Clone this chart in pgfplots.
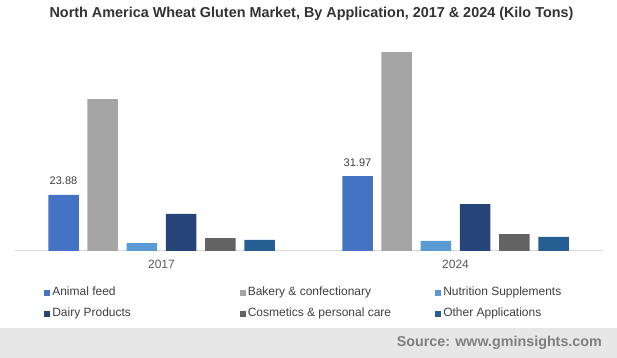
\documentclass[border=0pt]{standalone}
\usepackage{pgfplots}
\pgfplotsset{compat=1.18}
\usepackage{fontspec}
\setmainfont{Liberation Sans}
\definecolor{cA}{HTML}{4472C4}
\definecolor{cB}{HTML}{A5A5A5}
\definecolor{cC}{HTML}{5B9BD5}
\definecolor{cD}{HTML}{264478}
\definecolor{cE}{HTML}{636363}
\definecolor{cF}{HTML}{255E91}
\definecolor{txt}{HTML}{404040}
\definecolor{tickc}{HTML}{595959}
\definecolor{band}{HTML}{E7E7E7}
\definecolor{src}{HTML}{7F7F7F}
\definecolor{axl}{HTML}{D9D9D9}
\definecolor{ttl}{HTML}{333333}
\begin{document}
\begin{tikzpicture}
\useasboundingbox (0,0) rectangle (617bp,358bp);
\fill[white] (0,0) rectangle (617bp,358bp);
\fill[band] (0,0) rectangle (617bp,29.5bp);
\node[anchor=base east, font=\bfseries\fontsize{14.3bp}{16bp}\selectfont, text=src, inner sep=0pt] at (602bp,12bp) {Source: www.gminsights.com};
\node[anchor=base, font=\bfseries\fontsize{14.4bp}{16bp}\selectfont, text=ttl, inner sep=0pt] at (311.5bp,340bp) {North America Wheat Gluten Market, By Application, 2017 \& 2024 (Kilo Tons)};
\begin{axis}[
  at={(14.5bp,107bp)}, anchor=south west,
  scale only axis, width=588bp, height=211.1bp,
  xmin=-0.5, xmax=1.5, ymin=0, ymax=90,
  ybar=8.7bp, bar width=30.5bp,
  axis y line=none, axis x line*=bottom,
  x axis line style={draw=axl, line width=1bp, -},
  xtick={0,1}, xticklabels={2017,2024}, major tick length=0pt,
  xticklabel style={font=\fontsize{12bp}{14bp}\selectfont, text=tickc, inner sep=0pt, yshift=-8.5bp},
  ytick=\empty,
  clip=false,
  legend columns=3,
  legend image code/.code={\draw[#1, draw=none] (0bp,-3bp) rectangle (6bp,3bp);},
  legend cell align=left,
  legend style={at={(0.051,-0.172)}, anchor=north west, draw=none, fill=none,
    inner sep=0pt, outer sep=0pt, row sep=10bp, column sep=0pt,
    font=\fontsize{12bp}{14bp}\selectfont,
    nodes={inner sep=0pt, text=txt, text height=8.6bp, text depth=2.4bp},
    /tikz/every odd column/.append style={column sep=1.8bp}},
  /pgf/number format/assume math mode=true,
]
\addplot[fill=cA, draw=none,
  nodes near coords={\pgfmathprintnumber[fixed,fixed zerofill,precision=2]{\pgfplotspointmeta}},
  every node near coord/.append style={font=\fontsize{11bp}{13bp}\selectfont, text=txt, inner sep=0pt, yshift=9.7bp}]
  coordinates {(0,23.88) (1,31.97)};
\addlegendentry{\makebox[187.7bp][l]{Animal feed}}
\addplot[fill=cB, draw=none] coordinates {(0,64.8) (1,84.8)};
\addlegendentry{\makebox[187.7bp][l]{Bakery \& confectionary}}
\addplot[fill=cC, draw=none] coordinates {(0,3.4) (1,4.3)};
\addlegendentry{\makebox[187.7bp][l]{Nutrition Supplements}}
\addplot[fill=cD, draw=none] coordinates {(0,15.8) (1,20.0)};
\addlegendentry{\makebox[187.7bp][l]{Dairy Products}}
\addplot[fill=cE, draw=none] coordinates {(0,5.5) (1,7.2)};
\addlegendentry{\makebox[187.7bp][l]{Cosmetics \& personal care}}
\addplot[fill=cF, draw=none] coordinates {(0,4.7) (1,6.0)};
\addlegendentry{\makebox[187.7bp][l]{Other Applications}}
\end{axis}
\end{tikzpicture}
\end{document}
